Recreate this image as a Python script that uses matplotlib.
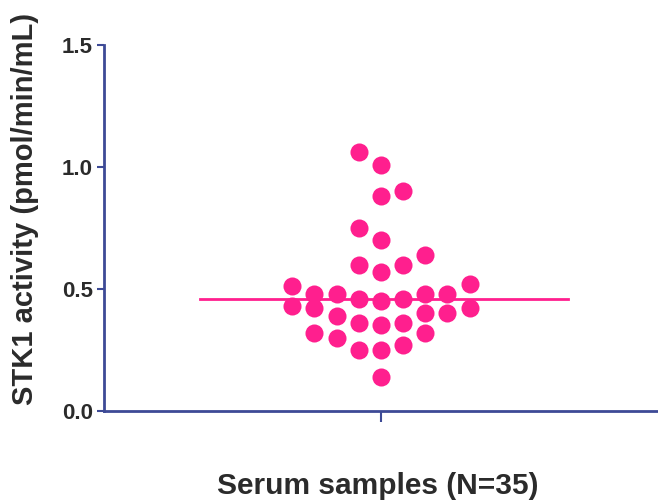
import numpy as np
import matplotlib.pyplot as plt

plt.rcParams['font.family'] = ['Liberation Sans', 'DejaVu Sans']

# STK1 activity values (pmol/min/mL)
stk1 = [1.06, 1.01, 0.88, 0.90, 0.75, 0.70, 0.64, 0.60, 0.57, 0.60,
        0.51, 0.43, 0.48, 0.42, 0.32, 0.48, 0.39, 0.30, 0.46, 0.36,
        0.25, 0.45, 0.35, 0.25, 0.14, 0.46, 0.36, 0.27, 0.48, 0.40,
        0.32, 0.48, 0.40, 0.52, 0.42]
yticks = [0.0, 0.5, 1.0, 1.5]
ylabel = 'STK1 activity (pmol/min/mL)'
xlabel = 'Serum samples (N=35)'

# scatter-column slot of each point (GraphPad style layout)
slot = [-1, 0, 0, 1, -1, 0, 2, -1, 0, 1,
        -4, -4, -3, -3, -3, -2, -2, -2, -1, -1,
        -1, 0, 0, 0, 0, 1, 1, 1, 2, 2,
        2, 3, 3, 4, 4]

pink = '#ff1f8e'
navy = '#3d4a96'
txt = '#2b2b2b'

fig = plt.figure(figsize=(6.58, 5.01), dpi=100)
ax = fig.add_axes([0.158, 0.180, 0.842, 0.730])

x = np.array(slot) * 0.08
ax.plot(x, stk1, 'o', color=pink, markersize=13, markeredgewidth=0, zorder=3)
med = np.median(stk1)
ax.plot([-0.655, 0.675], [med, med], color=pink, lw=2, zorder=2)

ax.set_xlim(-1, 1)
ax.set_ylim(0, 1.5)
ax.set_yticks(yticks)
ax.set_yticklabels([f'{v:.1f}' for v in yticks], fontsize=16, fontweight='bold', color=txt)
ax.set_xticks([0])
ax.set_xticklabels([''])
ax.tick_params(axis='y', direction='out', length=5, width=1.5, color=navy, pad=3)
ax.tick_params(axis='x', direction='out', length=8, width=1.5, color=navy)

for s in ['top', 'right']:
    ax.spines[s].set_visible(False)
for s in ['left', 'bottom']:
    ax.spines[s].set_color(navy)
    ax.spines[s].set_linewidth(2)

fig.text(0.038, 0.583, ylabel, fontsize=21, fontweight='bold', color=txt,
         rotation=90, ha='center', va='center')
fig.text(0.574, 0.013, xlabel, fontsize=21.5, fontweight='bold', color=txt,
         ha='center', va='baseline')

fig.savefig('out.png', dpi=100)
